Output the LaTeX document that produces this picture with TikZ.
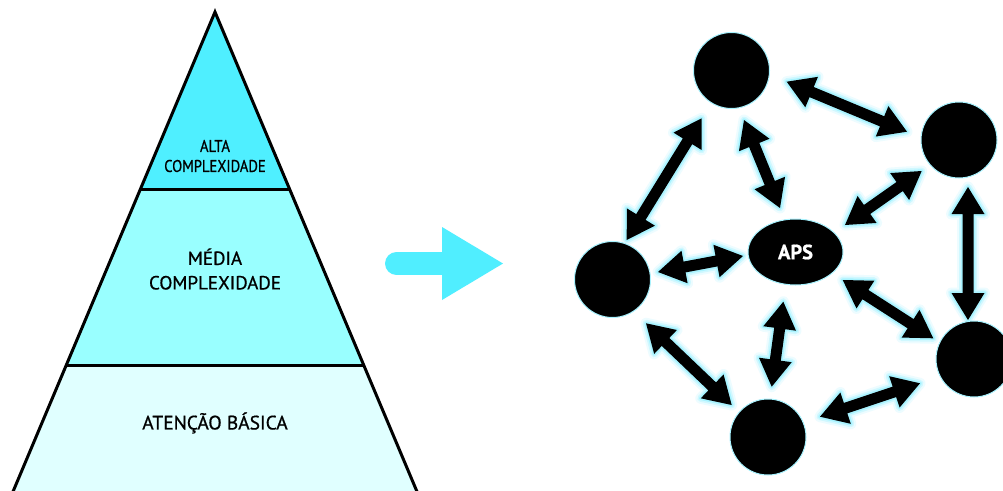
\documentclass[tikz,border=0pt]{standalone}
\usepackage{fontspec}
\usepackage{graphicx}
\setmainfont[FakeBold=0.8]{PT Sans}
\newfontfamily\condfont[FakeStretch=0.86,FakeBold=0.8]{PT Sans}
\usetikzlibrary{calc,shapes.geometric}
\definecolor{topband}{HTML}{4FEFFF}
\definecolor{midband}{HTML}{99FFFF}
\definecolor{lowband}{HTML}{E0FFFF}
\definecolor{bigarrow}{HTML}{50EEFF}
\definecolor{glowc}{HTML}{50E8FF}
\newcommand{\arrL}{27pt}
\newcommand{\arrW}{16.5pt}
\newcommand{\arrw}{5.5pt}
\newcommand{\dblarrowpath}[3]{%
  \path[#1] (#2)
    -- ($(#2)!\arrL!(#3)!\arrW!90:(#3)$)
    -- ($(#2)!\arrL!(#3)!\arrw!90:(#3)$)
    -- ($(#3)!\arrL!(#2)!\arrw!-90:(#2)$)
    -- ($(#3)!\arrL!(#2)!\arrW!-90:(#2)$)
    -- (#3)
    -- ($(#3)!\arrL!(#2)!\arrW!90:(#2)$)
    -- ($(#3)!\arrL!(#2)!\arrw!90:(#2)$)
    -- ($(#2)!\arrL!(#3)!\arrw!-90:(#3)$)
    -- ($(#2)!\arrL!(#3)!\arrW!-90:(#3)$)
    -- cycle;}
\newcommand{\dblarrow}[2]{%
  \dblarrowpath{glowA}{#1}{#2}%
  \dblarrowpath{glowB}{#1}{#2}%
  \dblarrowpath{glowC}{#1}{#2}%
  \dblarrowpath{arrowfill}{#1}{#2}}
\tikzset{
  glowA/.style={draw=glowc, line width=11pt, line join=round, opacity=0.10},
  glowB/.style={draw=glowc, line width=7pt, line join=round, opacity=0.18},
  glowC/.style={draw=glowc, line width=3.5pt, line join=round, opacity=0.3},
  arrowfill/.style={fill=black},
  band/.style={draw=black, line width=3pt},
  bandtext/.style={align=center, text=black, inner sep=0pt},
  ball/.style={circle, fill=black, draw=glowc!50, line width=1pt, minimum size=76pt, inner sep=0pt},
}
\begin{document}
\begin{tikzpicture}[x=1pt, y=-1pt]
\useasboundingbox (0,0) rectangle (1003,490);
\clip (0,0) rectangle (1003,490);
\fill[white] (0,0) rectangle (1003,490);

% pyramid
\coordinate (apex) at (215,12);
\coordinate (bl) at (-4,532);
\coordinate (br) at (434,532);
\fill[lowband] (apex) -- (bl) -- (br) -- cycle;
\fill[midband] (apex) -- ($(apex)!{(366-12)/520}!(bl)$) -- ($(apex)!{(366-12)/520}!(br)$) -- cycle;
\fill[topband] (apex) -- ($(apex)!{(189-12)/520}!(bl)$) -- ($(apex)!{(189-12)/520}!(br)$) -- cycle;
\draw[band] ($(apex)!{(189-12)/520}!(bl)$) -- ($(apex)!{(189-12)/520}!(br)$);
\draw[band] ($(apex)!{(366-12)/520}!(bl)$) -- ($(apex)!{(366-12)/520}!(br)$);
\draw[line width=3pt, line join=miter] (bl) -- (apex) -- (br);

\node[bandtext, font=\condfont\fontsize{17}{20}\selectfont] (alta) at (215,156) {ALTA\\COMPLEXIDADE};
\node[bandtext, font=\fontsize{19}{24.5}\selectfont] (media) at (215,269) {MÉDIA\\COMPLEXIDADE};
\node[bandtext, font=\fontsize{19.5}{24}\selectfont] (basica) at (215,423) {ATENÇÃO BÁSICA};

% big cyan arrow
\draw[bigarrow, line width=23pt, line cap=round] (396.5,263.5) -- (446,263.5);
\fill[bigarrow] (442,227) -- (503,263.5) -- (442,300) -- cycle;

% network endpoints
\coordinate (a1s) at (786.7,81.7);  \coordinate (a1e) at (907,131.7);
\coordinate (a2s) at (701.7,118.3); \coordinate (a2e) at (626.7,240);
\coordinate (a3s) at (744,120);     \coordinate (a3e) at (780,208);
\coordinate (a4s) at (921.7,171);   \coordinate (a4e) at (845,225);
\coordinate (a5s) at (968,187);     \coordinate (a5e) at (968,320);
\coordinate (a6s) at (658,272);     \coordinate (a6e) at (743,256);
\coordinate (a7s) at (842.7,280);   \coordinate (a7e) at (933.3,338.3);
\coordinate (a8s) at (646,323.3);   \coordinate (a8e) at (731.7,405);
\coordinate (a9s) at (783.3,301.7); \coordinate (a9e) at (771.7,386.7);
\coordinate (a10s) at (820,416.7);  \coordinate (a10e) at (920,383.3);

\dblarrow{a1s}{a1e}
\dblarrow{a2s}{a2e}
\dblarrow{a3s}{a3e}
\dblarrow{a4s}{a4e}
\dblarrow{a5s}{a5e}
\dblarrow{a6s}{a6e}
\dblarrow{a7s}{a7e}
\dblarrow{a8s}{a8e}
\dblarrow{a9s}{a9e}
\dblarrow{a10s}{a10e}

\node[ball] (top) at (731.5,70.5) {};
\node[ball] (rt) at (959,140) {};
\node[ball] (lf) at (612.5,279.5) {};
\node[ball] (bt) at (768,437) {};
\node[ball] (rb) at (974,359) {};
\node[ellipse, fill=black, draw=glowc!50, line width=1pt, minimum width=95pt, minimum height=66pt, inner sep=0pt,
  text=white, font=\bfseries\fontsize{20.5}{22}\selectfont] (aps) at (795.5,252) {APS};
\end{tikzpicture}
\end{document}
